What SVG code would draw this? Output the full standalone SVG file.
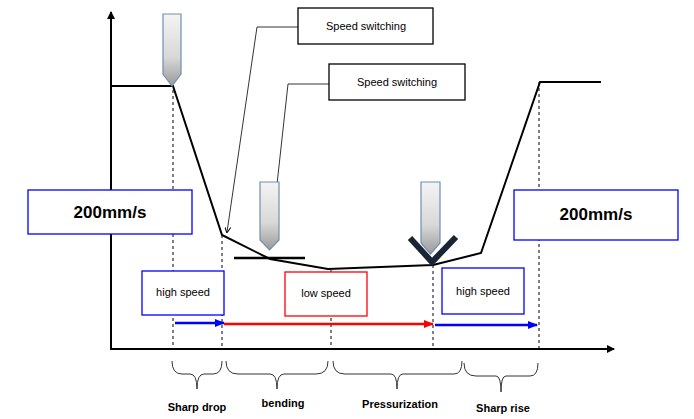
<svg xmlns="http://www.w3.org/2000/svg" width="694" height="419" viewBox="0 0 694 419">
<style>
text{font-family:"Liberation Sans",Arial,sans-serif;fill:#000}
.b{fill:#fff;stroke:#000;stroke-width:1.3}
.blue{fill:#fff;stroke:#00f;stroke-width:1.3}
.red{fill:#fff;stroke:#f00;stroke-width:1.3}
.d{stroke:#000;stroke-dasharray:3,3;fill:none}
.br{fill:none;stroke:#333;stroke-width:1}
.p{fill:url(#g);stroke:#6f8fb0;stroke-width:1.2}
.lbl{font-size:11px;font-weight:bold}
</style>
<defs>
<linearGradient id="g" x1="0" y1="0" x2="0" y2="1"><stop offset="0" stop-color="#f4f4f4"/><stop offset="0.6" stop-color="#d8d8d8"/><stop offset="1" stop-color="#9a9a9a"/></linearGradient>
<marker id="ak" markerWidth="8" markerHeight="8" refX="7" refY="4" orient="auto" markerUnits="userSpaceOnUse"><path d="M0,0L8,4L0,8z" fill="#000"/></marker>
<marker id="ab" markerWidth="10" markerHeight="8" refX="9" refY="4" orient="auto" markerUnits="userSpaceOnUse"><path d="M0,0L10,4L0,8z" fill="#00f"/></marker>
<marker id="ar" markerWidth="10" markerHeight="8" refX="9" refY="4" orient="auto" markerUnits="userSpaceOnUse"><path d="M0,0L10,4L0,8z" fill="#f00"/></marker>
<marker id="sm" markerWidth="6" markerHeight="6" refX="5" refY="3" orient="auto" markerUnits="userSpaceOnUse"><path d="M0,0L6,3L0,6" fill="none" stroke="#000"/></marker>
</defs>
<g id="connectors">
<line x1="111" y1="350" x2="111" y2="12" stroke="#000" stroke-width="2" marker-end="url(#ak)"/>
<line x1="110" y1="349" x2="614" y2="349" stroke="#000" stroke-width="2" marker-end="url(#ak)"/>
<path d="M173,90V349M222,235V349M331,270V349M433,265V349M539,82V349" class="d"/>
<polyline points="111,86 173,86 222,235 270,259 328,269 433,265 481,253 540,82 601,82" fill="none" stroke="#000" stroke-width="2"/>
<line x1="234" y1="258" x2="305" y2="258" stroke="#000" stroke-width="2.5"/>
<polyline points="298,27 257,27 227,232" fill="none" stroke="#000" stroke-width="0.8" marker-end="url(#sm)"/>
<polyline points="329,84 288,84 270,248" fill="none" stroke="#000" stroke-width="0.8" marker-end="url(#sm)"/>
<line x1="175" y1="323" x2="224" y2="323" stroke="#00f" stroke-width="2.5" marker-end="url(#ab)"/>
<line x1="224" y1="324" x2="433" y2="324" stroke="#f00" stroke-width="2.5" marker-end="url(#ar)"/>
<line x1="435" y1="325" x2="537" y2="325" stroke="#00f" stroke-width="2.5" marker-end="url(#ab)"/>
</g>
<g id="pressers">
<path d="M163,14H181V74L172,86L163,74Z" class="p"/>
<path d="M260,182H279V240L269.5,250L260,240Z" class="p"/>
<path d="M421,182H440V243L430.5,254L421,243Z" class="p"/>
<polyline points="410,238 432,262 456,237" fill="none" stroke="#1a2533" stroke-width="6"/>
</g>
<g id="callout1"><rect x="298" y="8" width="135" height="36" class="b"/><text x="366" y="30" font-size="11" text-anchor="middle">Speed switching</text></g>
<g id="callout2"><rect x="329" y="64" width="136" height="36" class="b"/><text x="397" y="86" font-size="11" text-anchor="middle">Speed switching</text></g>
<g id="speed-left"><rect x="28" y="190" width="164" height="44" class="blue"/><text x="110" y="218" font-size="17" font-weight="bold" text-anchor="middle">200mm/s</text></g>
<g id="speed-right"><rect x="514" y="190" width="164" height="50" class="blue"/><text x="596" y="220" font-size="17" font-weight="bold" text-anchor="middle">200mm/s</text></g>
<g id="high1"><rect x="142" y="271" width="82" height="44" class="blue"/><text x="183" y="296" font-size="11" text-anchor="middle">high speed</text></g>
<g id="low"><rect x="285" y="272" width="82" height="44" class="red"/><text x="326" y="297" font-size="11" text-anchor="middle">low speed</text></g>
<g id="high2"><rect x="442" y="268" width="82" height="46" class="blue"/><text x="483" y="295" font-size="11" text-anchor="middle">high speed</text></g>
<g id="braces">
<path d="M172,361Q172,374 182,374H190Q197,374 197,389Q197,374 204,374H213Q222,374 222,361" class="br"/>
<path d="M226,361Q226,374 238,374H270Q277,374 277,389Q277,374 284,374H316Q328,374 328,361" class="br"/>
<path d="M333,361Q333,374 345,374H391Q397,374 397,389Q397,374 403,374H454Q462,374 462,361" class="br"/>
<path d="M464,363Q464,376 476,376H496Q501,376 501,392Q501,376 506,376H530Q538,376 538,363" class="br"/>
</g>
<g id="labels">
<text x="197" y="411" class="lbl" text-anchor="middle">Sharp drop</text>
<text x="283" y="407" class="lbl" text-anchor="middle">bending</text>
<text x="400" y="408" class="lbl" text-anchor="middle">Pressurization</text>
<text x="503" y="412" class="lbl" text-anchor="middle">Sharp rise</text>
</g>
</svg>
